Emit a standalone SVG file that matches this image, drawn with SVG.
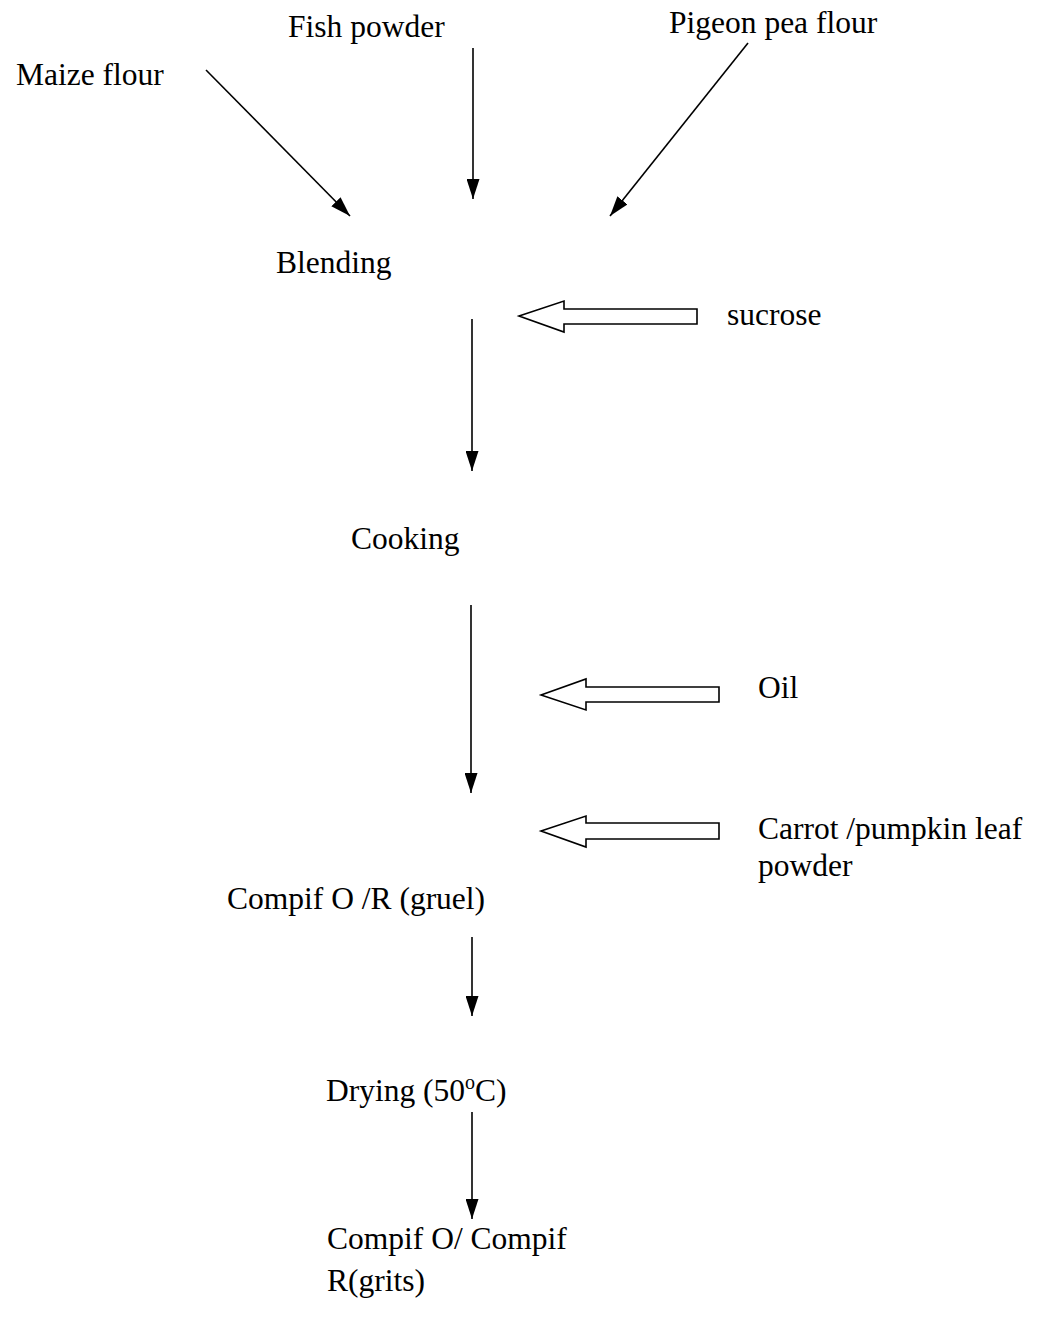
<svg xmlns="http://www.w3.org/2000/svg" width="1042" height="1330" viewBox="0 0 1042 1330">
<style>
text{font-family:"Liberation Serif","Times New Roman",serif;font-size:31.5px;fill:#000}
.ln{stroke:#000;stroke-width:1.6;fill:none}
.blk{stroke:#000;stroke-width:1.6;fill:#fff}
</style>
<defs>
<marker id="ah" markerUnits="userSpaceOnUse" markerWidth="20" markerHeight="13" refX="20" refY="6.5" viewBox="0 0 20 13" orient="auto">
<path d="M0,0 L20,6.5 L0,13 Z" fill="#000"/>
</marker>
</defs>
<rect width="1042" height="1330" fill="#fff"/>
<g id="maize"><text x="16" y="85">Maize flour</text></g>
<g id="fish"><text x="288" y="37">Fish powder</text></g>
<g id="pigeon"><text x="669" y="33">Pigeon pea flour</text></g>
<g id="blending"><text x="276" y="273">Blending</text></g>
<g id="sucrose"><text x="727" y="325">sucrose</text></g>
<g id="cooking"><text x="351" y="549">Cooking</text></g>
<g id="oil"><text x="758" y="698">Oil</text></g>
<g id="carrot"><text x="758" y="839">Carrot /pumpkin leaf</text><text x="758" y="876">powder</text></g>
<g id="gruel"><text x="227" y="909">Compif O /R (gruel)</text></g>
<g id="drying"><text x="326" y="1101">Drying (50<tspan font-size="20" dy="-12">o</tspan><tspan dy="12">C)</tspan></text></g>
<g id="grits"><text x="327" y="1249">Compif O/ Compif</text><text x="327" y="1291">R(grits)</text></g>
<g id="connectors">
<line class="ln" x1="206" y1="70" x2="350" y2="216" marker-end="url(#ah)"/>
<line class="ln" x1="473" y1="48" x2="473" y2="199" marker-end="url(#ah)"/>
<line class="ln" x1="748" y1="43" x2="610" y2="216" marker-end="url(#ah)"/>
<line class="ln" x1="472" y1="319" x2="472" y2="471" marker-end="url(#ah)"/>
<line class="ln" x1="471" y1="605" x2="471" y2="793" marker-end="url(#ah)"/>
<line class="ln" x1="472" y1="937" x2="472" y2="1016" marker-end="url(#ah)"/>
<line class="ln" x1="472" y1="1112" x2="472" y2="1219" marker-end="url(#ah)"/>
<polygon class="blk" points="519,316 564,301 564,309 697,309 697,324 564,324 564,332"/>
<polygon class="blk" points="541,695 586,679 586,687 719,687 719,702 586,702 586,710"/>
<polygon class="blk" points="541,831 586,816 586,823 719,823 719,839 586,839 586,847"/>
</g>
</svg>
